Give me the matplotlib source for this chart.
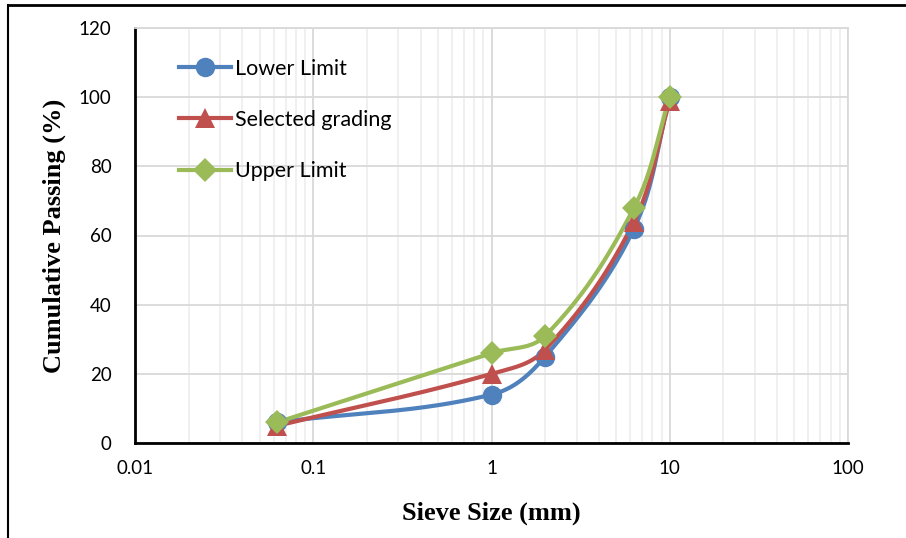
import numpy as np
import matplotlib
matplotlib.use("Agg")
import matplotlib.pyplot as plt
from matplotlib.lines import Line2D
from matplotlib.ticker import FixedLocator, NullFormatter

sieve = [0.063, 1, 2, 6.3, 10]
lower = [6, 14, 25, 62, 100]
selected = [5, 20, 27, 64, 99]
upper = [6, 26, 31, 68, 100]
series_names = ["Lower Limit", "Selected grading", "Upper Limit"]
xticks = [0.01, 0.1, 1, 10, 100]
xtick_labels = ["0.01", "0.1", "1", "10", "100"]
yticks = [0, 20, 40, 60, 80, 100, 120]

W, H = 906, 538
fig = plt.figure(figsize=(W / 100, H / 100), dpi=100)
ax = fig.add_axes([135 / W, 1 - 443 / H, (848 - 135) / W, (443 - 28) / H])

# pixel scales for Excel-like smoothing
px_dec = (848 - 135) / 4.0
px_y = (443 - 28) / 120.0


def smooth(xs, ys, n=60, k=0.36):
    u = np.log10(np.asarray(xs, float)) * px_dec
    v = np.asarray(ys, float) * px_y
    P = np.column_stack([u, v])
    m = len(P)

    def tangent(i):
        a = P[i - 1] if i > 0 else P[i]
        b = P[i + 1] if i + 1 < m else P[i]
        d = b - a
        return d / np.linalg.norm(d)

    out = []
    for i in range(m - 1):
        p1 = P[i]
        p2 = P[i + 1]
        L = np.linalg.norm(p2 - p1)
        c1 = p1 + tangent(i) * L * k
        c2 = p2 - tangent(i + 1) * L * k
        t = np.linspace(0, 1, n)[:, None]
        seg = ((1 - t) ** 3) * p1 + 3 * ((1 - t) ** 2) * t * c1 + 3 * (1 - t) * t ** 2 * c2 + t ** 3 * p2
        out.append(seg if i == 0 else seg[1:])
    S = np.vstack(out)
    return 10 ** (S[:, 0] / px_dec), S[:, 1] / px_y


colors = ["#4f81bd", "#c0504d", "#9bbb59"]
markers = ["o", "^", "D"]
msizes = [14, 14, 12]
data = [lower, selected, upper]

for ys, c, mk, ms in zip(data, colors, markers, msizes):
    sx, sy = smooth(sieve, ys)
    ax.plot(sx, sy, color=c, lw=3, zorder=3, solid_capstyle="round")
    ax.plot(sieve, ys, linestyle="none", marker=mk, color=c, markersize=ms,
            markeredgewidth=0, zorder=4)

ax.set_xscale("log")
ax.set_xlim(0.01, 100)
ax.set_ylim(0, 120)
ax.xaxis.set_major_locator(FixedLocator(xticks))
ax.set_xticklabels(xtick_labels)
minors = [m * 10.0 ** e for e in range(-2, 2) for m in range(2, 10)]
ax.xaxis.set_minor_locator(FixedLocator(minors))
ax.xaxis.set_minor_formatter(NullFormatter())
ax.set_yticks(yticks)

ax.grid(True, which="major", color="#d9d9d9", lw=1.3, zorder=0)
ax.grid(True, which="minor", axis="x", color="#efefef", lw=1.3, zorder=0)
ax.set_axisbelow(True)

for s in ["top", "right"]:
    ax.spines[s].set_color("#d9d9d9")
    ax.spines[s].set_linewidth(1.3)
for s in ["left", "bottom"]:
    ax.spines[s].set_color("black")
    ax.spines[s].set_linewidth(2)

ax.tick_params(which="both", length=0)
ax.tick_params(axis="y", pad=17, labelsize=13.5)
ax.tick_params(axis="x", pad=12, labelsize=13.5)
for lab in ax.get_xticklabels() + ax.get_yticklabels():
    lab.set_family(["Lato", "DejaVu Sans"])

ax.set_xlabel("Sieve Size (mm)", family="Liberation Serif", fontweight="bold",
              fontsize=19, labelpad=18)
ax.set_ylabel("Cumulative Passing (%)", family="Liberation Serif", fontweight="bold",
              fontsize=19, labelpad=9)

handles = [Line2D([], [], color=c, lw=3, marker=mk, markersize=ms, markeredgewidth=0)
           for c, mk, ms in zip(colors, markers, msizes)]
leg = ax.legend(handles, series_names, loc="upper left", bbox_to_anchor=(0.05, 0.947),
                frameon=False, prop={"family": "Lato", "size": 15.5},
                handlelength=2.4, labelspacing=1.45, handletextpad=0.2, borderaxespad=0)

# outer figure border (top and left)
fig.add_artist(Line2D([8 / W, 1], [1 - 5 / H, 1 - 5 / H], color="black", lw=2,
                      transform=fig.transFigure))
fig.add_artist(Line2D([8 / W, 8 / W], [0, 1 - 5 / H], color="black", lw=1.5,
                      transform=fig.transFigure))

fig.savefig("out.png", dpi=100)
